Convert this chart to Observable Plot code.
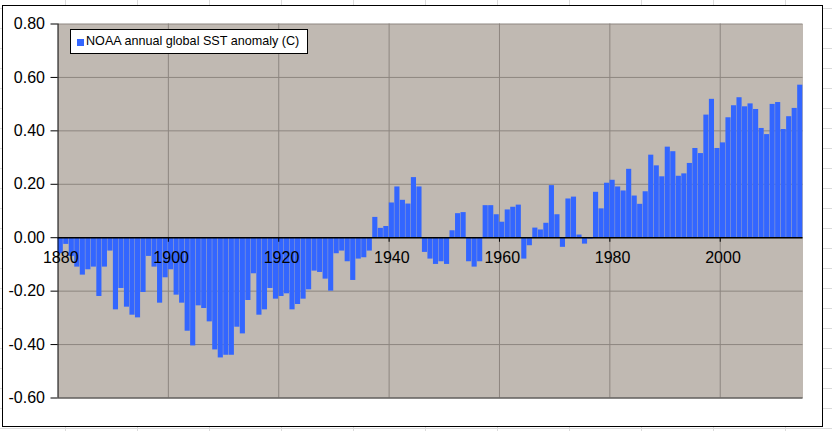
<!DOCTYPE html>
<html>
<head>
<meta charset="utf-8">
<script src="https://cdn.jsdelivr.net/npm/d3@7"></script>
<script src="https://cdn.jsdelivr.net/npm/@observablehq/plot@0.6"></script>
<style>
  html, body { margin: 0; padding: 0; width: 832px; height: 431px; overflow: hidden; }
  body {
    background-color: #fff;
    background-image:
      linear-gradient(to right, #dcdcdc 1px, transparent 1px),
      linear-gradient(to bottom, #dcdcdc 1px, transparent 1px);
    background-size: 72px 100%, 100% 20px;
    background-position: 65px 0, 0 8px;
    position: relative;
    font-family: "Liberation Sans", Arial, sans-serif;
  }
  #frame { position: absolute; left: 2px; top: 5px; width: 819px; height: 420px; border: 1px solid #000; background: #fff; }
  #chart { position: absolute; left: 0; top: 0; }
  #legend { position: absolute; left: 70px; top: 29px; width: 236px; height: 23px; border: 1px solid #000; background: #fff;
            font-size: 12.6px; line-height: 23px; white-space: nowrap; }
  #legend .sw { position: absolute; left: 6px; top: 9px; width: 7px; height: 7px; background: #3366ff; }
  #legend .lb { position: absolute; left: 15px; top: 0; }
</style>
</head>
<body>
<div id="frame"></div>
<div id="chart"></div>
<div id="legend"><span class="sw"></span><span class="lb"></span></div>
<script>
// ---- data ----
const startYear = 1880;
const anomaly = [
  -0.06, -0.025, -0.07, -0.11, -0.14, -0.12, -0.11, -0.22, -0.11, -0.05,   // 1880-1889
  -0.27, -0.19, -0.26, -0.29, -0.30, -0.205, -0.07, -0.11, -0.245, -0.15,  // 1890-1899
  -0.12, -0.215, -0.245, -0.35, -0.405, -0.255, -0.265, -0.315, -0.42, -0.45, // 1900-1909
  -0.44, -0.44, -0.335, -0.36, -0.235, -0.135, -0.29, -0.27, -0.19, -0.23, // 1910-1919
  -0.22, -0.21, -0.27, -0.25, -0.23, -0.195, -0.125, -0.13, -0.155, -0.20, // 1920-1929
  -0.06, -0.05, -0.09, -0.16, -0.08, -0.075, -0.05, 0.076, 0.035, 0.042,   // 1930-1939
  0.13, 0.19, 0.14, 0.126, 0.225, 0.19, -0.055, -0.08, -0.10, -0.09,       // 1940-1949
  -0.10, 0.026, 0.09, 0.094, -0.09, -0.11, -0.09, 0.12, 0.12, 0.086,       // 1950-1959
  0.058, 0.104, 0.114, 0.122, -0.08, -0.03, 0.036, 0.029, 0.054, 0.195,    // 1960-1969
  0.086, -0.036, 0.145, 0.152, 0.01, -0.024, -0.005, 0.17, 0.108, 0.204,   // 1970-1979
  0.215, 0.19, 0.175, 0.256, 0.156, 0.125, 0.172, 0.309, 0.269, 0.228,     // 1980-1989
  0.339, 0.322, 0.23, 0.239, 0.278, 0.334, 0.315, 0.459, 0.518, 0.334,     // 1990-1999
  0.355, 0.449, 0.494, 0.524, 0.49, 0.501, 0.48, 0.409, 0.386, 0.499,      // 2000-2009
  0.506, 0.405, 0.453, 0.484, 0.571                                        // 2010-2014
];
const xTickYears = [1880, 1900, 1920, 1940, 1960, 1980, 2000];
const yTicks = [-0.6, -0.4, -0.2, 0, 0.2, 0.4, 0.6, 0.8];
const seriesName = "NOAA annual global SST anomaly (C)";

// ---- build ----
const data = anomaly.map((v, i) => ({year: startYear + i, value: v}));
const boundaries = xTickYears.slice(1).map(y => y - 0.5);

const chart = Plot.plot({
  width: 832,
  height: 431,
  marginLeft: 57.5,
  marginRight: 29.5,
  marginTop: 23.5,
  marginBottom: 33.5,
  style: {background: "transparent", fontFamily: "'Liberation Sans', Arial, sans-serif", fontSize: "16px", color: "#000"},
  x: {domain: [startYear - 0.5, startYear + anomaly.length - 0.5], axis: null},
  y: {domain: [-0.6, 0.8], axis: null},
  marks: [
    Plot.frame({fill: "#c0b9b2", stroke: null}),
    Plot.gridY(yTicks, {stroke: "#8d8680", strokeOpacity: 1}),
    Plot.gridX(boundaries, {stroke: "#8d8680", strokeOpacity: 1}),
    Plot.ruleY([-0.6], {stroke: "#4a4a4a"}),
    Plot.rect(data, {x1: d => d.year - 0.5, x2: d => d.year + 0.5, y1: d => 0, y2: "value",
                     fill: "#3366ff", insetLeft: 0.2, insetRight: 0.2}),
    Plot.ruleY([0], {stroke: "#000", strokeWidth: 1.4}),
    Plot.ruleX(boundaries, {y1: d => 0, y2: d => -0.017, stroke: "#000"}),
    Plot.text(xTickYears, {x: d => d, y: d => 0, dy: 20, text: d => String(d), fontSize: 16, fill: "#000"}),
    Plot.ruleX([startYear - 0.5], {stroke: "#000"}),
    Plot.axisY(yTicks, {tickFormat: d => d.toFixed(2), tickSize: 7, tickPadding: 6, fontSize: 16, label: null, stroke: "#000"})
  ]
});
document.getElementById("chart").appendChild(chart);
document.querySelector("#legend .lb").textContent = seriesName;
</script>
</body>
</html>
